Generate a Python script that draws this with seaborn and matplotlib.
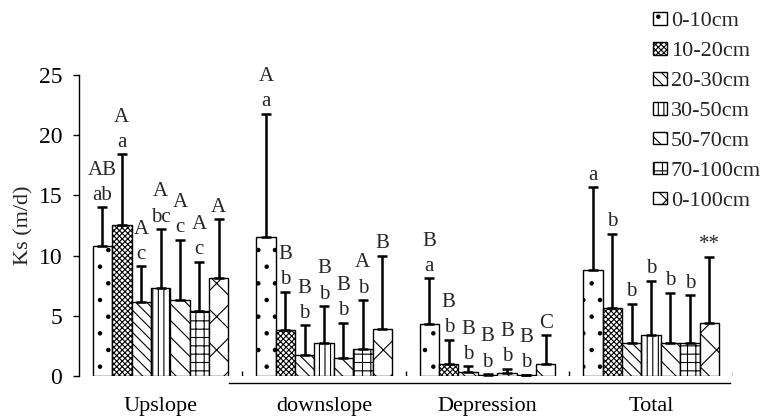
import matplotlib
matplotlib.use("Agg")
import matplotlib.pyplot as plt
import seaborn as sns
import pandas as pd
import numpy as np

sns.set_theme(style="ticks")
plt.rcParams["font.family"] = ["Liberation Serif", "DejaVu Serif"]
plt.rcParams["hatch.linewidth"] = 0.8

positions = ["Upslope", "downslope", "Depression", "Total"]
depths = ["0-10cm", "10-20cm", "20-30cm", "30-50cm", "50-70cm", "70-100cm", "0-100cm"]

# mean Ks per position (rows) and depth (cols)
ks_mean = [
    [10.8, 12.5, 6.1, 7.3, 6.3, 5.4, 8.1],
    [11.5, 3.8, 1.7, 2.7, 1.5, 2.2, 3.9],
    [4.3, 1.0, 0.3, 0.1, 0.2, 0.05, 1.0],
    [8.8, 5.6, 2.7, 3.4, 2.7, 2.7, 4.4],
]
# upper error bar top
ks_top = [
    [14.0, 18.4, 9.1, 12.2, 11.3, 9.5, 13.0],
    [21.8, 7.0, 4.2, 5.8, 4.4, 6.3, 10.0],
    [8.1, 3.0, 0.8, 0.15, 0.6, 0.1, 3.4],
    [15.7, 11.8, 6.0, 7.9, 6.9, 6.7, 9.9],
]
lower_letters = [
    ["ab", "a", "c", "bc", "c", "c", ""],
    ["a", "b", "b", "b", "b", "b", ""],
    ["a", "b", "b", "b", "b", "b", ""],
    ["a", "b", "b", "b", "b", "b", "**"],
]
upper_letters = [
    ["AB", "A", "A", "A", "A", "A", "A"],
    ["A", "B", "B", "B", "B", "A", "B"],
    ["B", "B", "B", "B", "B", "B", "C"],
    ["", "", "", "", "", "", ""],
]
hatches = [".", "xxxxxx", "\\\\\\", "|||", "\\\\", "++", "x"]

rows = []
for i, p in enumerate(positions):
    for j, d in enumerate(depths):
        rows.append({"position": p, "depth": d, "ks": ks_mean[i][j]})
df = pd.DataFrame(rows)

fig, ax = plt.subplots(figsize=(7.73, 4.19), dpi=100)
fig.subplots_adjust(left=0.102, right=0.948, bottom=0.103, top=0.821)

sns.barplot(data=df, x="position", y="ks", hue="depth", order=positions,
            hue_order=depths, width=0.83, errorbar=None, ax=ax,
            palette=["white"] * 7, edgecolor="black", linewidth=1.0,
            legend=False, zorder=2)

bar_containers = list(ax.containers)
for j, cont in enumerate(bar_containers):
    xs = []
    for patch in cont.patches:
        patch.set_hatch(hatches[j])
        patch.set_facecolor("white")
        patch.set_edgecolor("black")
        xs.append(patch.get_x() + patch.get_width() / 2)
    xs = np.array(xs)
    means = np.array([ks_mean[i][j] for i in range(4)])
    tops = np.array([ks_top[i][j] for i in range(4)])
    ax.errorbar(xs, means, yerr=[np.zeros(4), tops - means], fmt="none",
                ecolor="black", elinewidth=1.8, capsize=3.5, capthick=1.8,
                zorder=3)
    for i in range(4):
        y = tops[i] + 0.2
        lo, up = lower_letters[i][j], upper_letters[i][j]
        if lo:
            ax.text(xs[i], y, lo, ha="center", va="bottom", fontsize=15)
            y += 2.1
        if up:
            ax.text(xs[i], y, up, ha="center", va="bottom", fontsize=15)

handles = [cont.patches[0] for cont in bar_containers]
fig.legend(handles, depths, loc="upper right", bbox_to_anchor=(1.0, 1.0),
           frameon=False, fontsize=16, handlelength=0.65, handleheight=0.5,
           handletextpad=0.15, labelspacing=0.48, borderaxespad=0.15)

ax.set_xlim(-0.5, 3.5)
ax.set_ylim(0, 25)
ax.set_yticks([0, 5, 10, 15, 20, 25])
ax.set_ylabel("Ks (m/d)", fontsize=16, labelpad=4)
ax.set_xlabel("")

# small separators between position groups
ax.vlines([0.5, 1.5, 2.5, 3.5], 0, 0.4, color="black", lw=1)

sns.despine(ax=ax)
ax.spines["bottom"].set_position(("outward", 5))
ax.spines["bottom"].set_bounds(0.42, 3.48)
ax.spines["bottom"].set_linewidth(1)
ax.spines["left"].set_linewidth(1)
ax.spines["left"].set_color("black")
ax.spines["bottom"].set_color("black")
ax.tick_params(axis="x", length=0, pad=10, labelsize=16, colors="black")
ax.tick_params(axis="y", length=4, width=1, pad=8, labelsize=17, colors="black")

fig.savefig("out.png", dpi=100)
